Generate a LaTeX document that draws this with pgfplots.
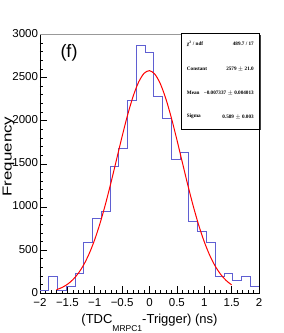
\documentclass[border=0pt]{standalone}
\usepackage{pgfplots}
\pgfplotsset{compat=1.18}
\usepackage{fontspec}
\setmainfont{Liberation Sans}
\newfontfamily\statfont{Liberation Serif}
\definecolor{histblue}{RGB}{95,95,210}
\begin{document}
\begin{tikzpicture}[x=1pt,y=1pt]
\useasboundingbox (0,0) rectangle (284,333);
\begin{axis}[
  at={(40pt,39.7pt)}, anchor=south west,
  scale only axis, width=219pt, height=259pt,
  xmin=-2, xmax=2, ymin=0, ymax=3000,
  axis line style={black, line width=0.8pt},
  xtick={-2,-1.5,-1,-0.5,0,0.5,1,1.5,2},
  xticklabels={−2,−1.5,−1,−0.5,0,0.5,1,1.5,2},
  ytick={0,500,1000,1500,2000,2500,3000},
  yticklabels={0,500,1000,1500,2000,2500,3000},
  scaled y ticks=false,
  minor x tick num=4, minor y tick num=4,
  tick align=inside, xtick pos=bottom, ytick pos=left,
  major tick length=7pt, minor tick length=3.5pt,
  every tick/.style={black, line width=0.6pt},
  ticklabel style={font=\fontsize{11.5}{12}\selectfont},
  yticklabel style={xshift=1.5pt, yshift=1pt, inner ysep=0pt},
  xticklabel style={yshift=-3pt, inner ysep=2pt},
  /pgf/number format/assume math mode=true,
]
\addplot[const plot, histblue, line width=0.9pt, mark=none] coordinates {
(-2.00,38) (-1.84,192) (-1.68,38) (-1.52,77) (-1.36,231) (-1.20,594)
(-1.04,872) (-0.88,950) (-0.72,1474) (-0.56,1675) (-0.40,2234) (-0.24,2873)
(-0.08,2794) (0.08,2277) (0.24,2027) (0.40,1556) (0.56,1636) (0.72,837)
(0.88,713) (1.04,594) (1.20,192) (1.36,231) (1.52,154) (1.68,192)
(1.84,77) (2.00,77)
};
\addplot[red, line width=1pt, smooth, mark=none] coordinates {
(-1.7,41.5) (-1.6,66.6) (-1.5,104.0) (-1.4,157.5) (-1.3,231.9) (-1.2,331.9)
(-1.1,461.4) (-1.0,623.2) (-0.9,817.7) (-0.8,1042.7) (-0.7,1291.6) (-0.6,1554.5)
(-0.5,1817.7) (-0.4,2065.0) (-0.3,2279.4) (-0.2,2444.6) (-0.1,2547.3) (0,2578.8)
(0.1,2536.6) (0.2,2424.1) (0.3,2250.9) (0.4,2030.5) (0.5,1779.8) (0.6,1515.7)
(0.7,1254.1) (0.8,1008.1) (0.9,787.4) (1.0,597.5) (1.1,440.5) (1.2,315.6)
(1.3,219.6) (1.4,148.5) (1.5,97.6)
};
\end{axis}
% top frame line in grey
\draw[gray!80, line width=1.5pt] (40,298.7) -- (259,298.7);
% stats box with shadow
\fill[black!75] (183.2,202.5) rectangle (260.6,298.2);
\draw[black, line width=0.6pt, fill=white] (181.7,204) rectangle (259,299.7);
\begin{scope}[every node/.style={inner sep=0pt, font=\statfont\bfseries\fontsize{5.2}{6}\selectfont}]
\node[anchor=west] at (186.7,289) {χ\textsuperscript{2} / ndf};
\node[anchor=east] at (254,289) {489.7 / 17};
\node[anchor=west] at (186.7,263.7) {Constant};
\node[anchor=east] at (254,263.7) {2579 $\pm$ 21.0};
\node[anchor=west] at (186.7,239.7) {Mean};
\node[anchor=east] at (254,239.7) {−0.007337 $\pm$ 0.004013};
\node[anchor=west] at (186.7,216.3) {Sigma};
\node[anchor=east] at (254,216.3) {0.589 $\pm$ 0.003};
\end{scope}
% labels
\node[font=\fontsize{18}{20}\selectfont, inner sep=0pt] at (69,280.5) {(f)};
\node[rotate=90, inner sep=0pt, font=\fontsize{13}{14}\selectfont] at (8.5,176.5) {\scalebox{1.3}[1]{Frequency}};
\node[anchor=base, inner sep=0pt, font=\fontsize{13}{14}\selectfont] at (149.5,9.5) {(TDC\raisebox{-8pt}{\fontsize{8.5}{9}\selectfont MRPC1}-Trigger) (ns)};
\end{tikzpicture}
\end{document}
